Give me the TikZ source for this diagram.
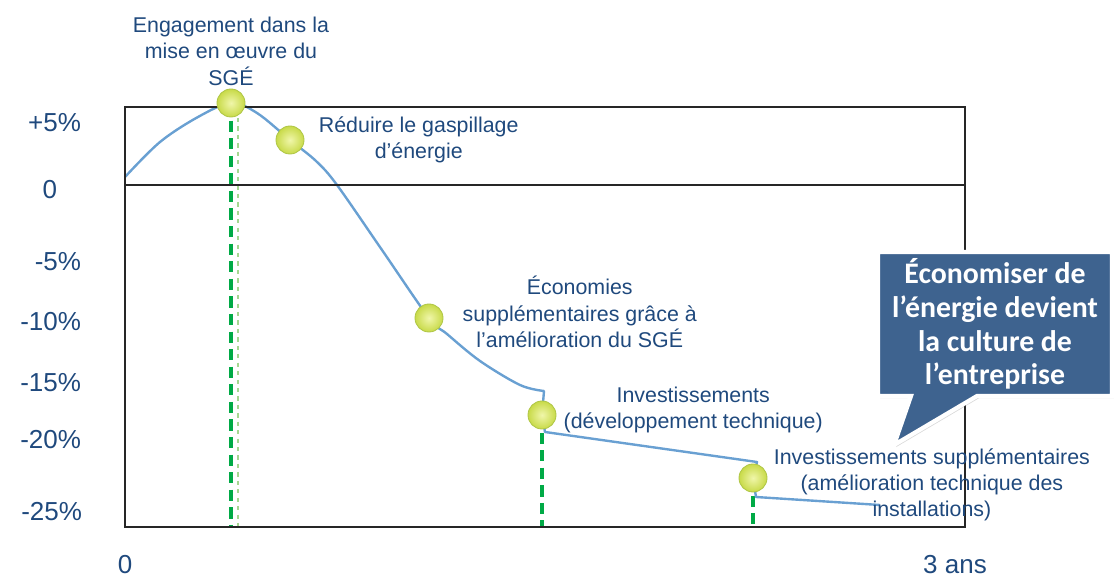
\documentclass[tikz,border=0pt]{standalone}
\usepackage{fontspec}
\setmainfont{Liberation Sans}
\newfontfamily\bullefont{Carlito}
\usepackage{xcolor}
\usepackage{tikz}
\usetikzlibrary{positioning,calc,shapes.callouts,shadows,backgrounds}

\definecolor{texte}{RGB}{31,73,125}
\definecolor{courbebleu}{RGB}{105,160,210}
\definecolor{vert}{RGB}{0,170,70}
\definecolor{vertclair}{RGB}{165,215,145}
\definecolor{bulle}{RGB}{62,99,143}
\definecolor{pastille}{RGB}{200,218,72}
\definecolor{pastilleclair}{RGB}{240,246,170}
\definecolor{pastillebord}{RGB}{175,198,70}

\tikzset{
  etiquette/.style={text=texte, align=center, inner sep=1pt, font=\fontsize{15.2}{18.8}\selectfont},
  graduation/.style={text=texte, anchor=east, font=\fontsize{18.5}{20}\selectfont},
  axe/.style={text=texte, font=\fontsize{18.5}{20}\selectfont},
  jalon/.style={circle, minimum size=0.7cm, inner sep=0pt, draw=pastillebord, line width=0.6pt, inner color=pastilleclair, outer color=pastille},
  courbe/.style={courbebleu, line width=1.7pt, line join=round},
  repere/.style={vert, line width=3.5pt, dash pattern=on 8pt off 4.5pt},
  cadre/.style={black!85, line width=1.4pt},
  bulle/.style={rectangle callout, fill=bulle, draw=white, line width=3pt, text=white, align=center,
    font=\bullefont\bfseries\fontsize{21.2}{24}\selectfont, minimum width=5.85cm, minimum height=3.6cm,
    callout pointer width=1.65cm, drop shadow={opacity=0.3, shadow xshift=1.5pt, shadow yshift=-1.5pt}},
}

\begin{document}
\begin{tikzpicture}[x=0.025cm, y=-0.025cm]
    \useasboundingbox (0,0) rectangle (1114,582);

    % cadre et ligne du zero
    \coordinate (hg) at (125,107);
    \coordinate (bd) at (965,527);
    \draw[cadre] (hg) rectangle (bd);
    \draw[cadre] (125,185) -- (965,185);

    % graduations
    \node[graduation] (g5) at (86,123) {+5\%};
    \node[graduation] (g0) at (62,190) {0};
    \node[graduation] (gm5) at (86,262) {-5\%};
    \node[graduation] (gm10) at (86,322) {-10\%};
    \node[graduation] (gm15) at (86,383) {-15\%};
    \node[graduation] (gm20) at (86,440) {-20\%};
    \node[graduation] (gm25) at (87,512) {-25\%};
    \node[axe] (t0) at (125,565) {0};
    \node[axe] (t3) at (955,565) {3 ans};

    % jalons
    \node[jalon] (d1) at (231,103) {};
    \node[jalon] (d2) at (290,140) {};
    \node[jalon] (d3) at (429,318) {};
    \node[jalon] (d4) at (542,415) {};
    \node[jalon] (d5) at (753,478) {};

    \node[etiquette, above=1pt of d1] (l1) {Engagement dans la\\mise en œuvre du\\SGÉ};
    \node[etiquette, right=0.32cm of d2] (l2) {Réduire le gaspillage\\d’énergie};
    \node[etiquette, right=0.44cm of d3, yshift=0.15cm] (l3) {Économies\\supplémentaires grâce à\\l’amélioration du SGÉ};
    \node[etiquette, right=0.14cm of d4, yshift=0.12cm] (l4) {Investissements\\(développement technique)};
    \node[etiquette, right=0.12cm of d5, yshift=-0.17cm] (l5) {Investissements supplémentaires\\(amélioration technique des\\installations)};

    % courbe et reperes
    \begin{pgfonlayer}{background}
        \draw[vertclair, line width=1.2pt, dashed] (238,118) -- (238,527);
        \draw[repere] (d1.center) -- (d1 |- bd);
        \draw[repere] (d4.center) -- (d4 |- bd);
        \draw[repere] (d5.center) -- (d5 |- bd);
        \draw[courbe] plot[smooth, tension=0.55] coordinates {(125,177) (160,142) (198,117) (d1.center) (257,113) (d2.center) (316,161) (337,185) (382,250) (d3.center) (447,334) (480,361) (520,385) (544,391)}
            -- (d4.center) -- (545,432) -- (757,462) -- (d5.center) -- (756,497) -- (880,505);
    \end{pgfonlayer}

    % bulle
    \coordinate (pointe) at (894,445);
    \node[bulle, callout absolute pointer=(pointe)] (msg) at (995,324) {Économiser de\\l’énergie devient\\la culture de\\l’entreprise};
\end{tikzpicture}
\end{document}
